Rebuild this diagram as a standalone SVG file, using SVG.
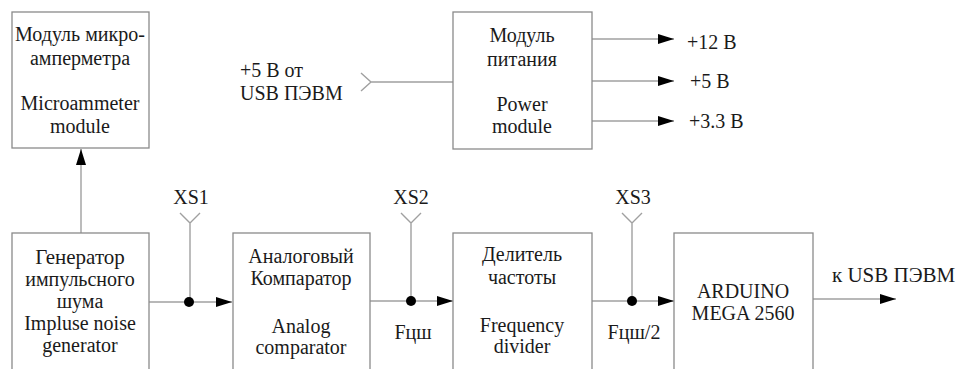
<svg xmlns="http://www.w3.org/2000/svg" width="959" height="369" viewBox="0 0 959 369">
<defs>
<style>
.box{fill:#fff;stroke:#8a8a8a;stroke-width:1.3}
.ln{fill:none;stroke:#a0a0a0;stroke-width:1.4}
text{font-family:'Liberation Serif','DejaVu Serif',serif;font-size:20px;fill:#1a1a1a}
.c{text-anchor:middle}
.dot{fill:#000}
</style>
<marker id="ah" viewBox="0 0 16 10" refX="16" refY="5" markerWidth="16" markerHeight="10" markerUnits="userSpaceOnUse" orient="auto">
<path d="M0,0 L16,5 L0,10 Z" fill="#000"/>
</marker>
</defs>
<rect width="959" height="369" fill="#fff"/>

<g id="connectors">
<path class="ln" d="M81,233 V149" marker-end="url(#ah)"/>
<path class="ln" d="M361,73 L371,82 L361,91 M371,82 H453"/>
<path class="ln" d="M592,39 H674" marker-end="url(#ah)"/>
<path class="ln" d="M592,81 H674" marker-end="url(#ah)"/>
<path class="ln" d="M592,121 H674" marker-end="url(#ah)"/>
<path class="ln" d="M149,302 H232" marker-end="url(#ah)"/>
<path class="ln" d="M370,301 H453" marker-end="url(#ah)"/>
<path class="ln" d="M592,301 H674" marker-end="url(#ah)"/>
<path class="ln" d="M813,299 H896" marker-end="url(#ah)"/>
<path class="ln" d="M180,213 L190,223 L200,213 M190,223 V302"/>
<path class="ln" d="M401,213 L411,223 L421,213 M411,223 V301"/>
<path class="ln" d="M622,213 L632,223 L642,213 M632,223 V301"/>
<circle class="dot" cx="189" cy="302" r="5"/>
<circle class="dot" cx="411" cy="301" r="5"/>
<circle class="dot" cx="632" cy="301" r="5"/>
</g>

<g id="microammeter">
<rect class="box" x="12" y="12" width="137" height="136"/>
<text class="c" x="80" y="41">Модуль микро-</text>
<text class="c" x="80" y="65">амперметра</text>
<text class="c" x="80" y="110">Microammeter</text>
<text class="c" x="80" y="133">module</text>
</g>

<g id="usb-input">
<text x="240" y="77">+5 В от</text>
<text x="240" y="100">USB ПЭВМ</text>
</g>

<g id="power">
<rect class="box" x="453" y="12" width="139" height="137"/>
<text class="c" x="522" y="42">Модуль</text>
<text class="c" x="522" y="66">питания</text>
<text class="c" x="522" y="111">Power</text>
<text class="c" x="522" y="133">module</text>
</g>

<g id="outputs">
<text x="687" y="49">+12 В</text>
<text x="690" y="88">+5 В</text>
<text x="689" y="128">+3.3 В</text>
</g>

<g id="generator">
<rect class="box" x="12" y="233" width="137" height="150"/>
<text class="c" x="80" y="264" style="font-size:21px">Генератор</text>
<text class="c" x="80" y="286">импульсного</text>
<text class="c" x="80" y="308">шума</text>
<text class="c" x="80" y="330">Impluse noise</text>
<text class="c" x="80" y="352">generator</text>
</g>

<g id="comparator">
<rect class="box" x="233" y="233" width="137" height="150"/>
<text class="c" x="301" y="263">Аналоговый</text>
<text class="c" x="301" y="285">Компаратор</text>
<text class="c" x="301" y="333">Analog</text>
<text class="c" x="301" y="354">comparator</text>
</g>

<g id="divider">
<rect class="box" x="453" y="233" width="139" height="150"/>
<text class="c" x="522" y="261">Делитель</text>
<text class="c" x="522" y="284">частоты</text>
<text class="c" x="522" y="332">Frequency</text>
<text class="c" x="522" y="353">divider</text>
</g>

<g id="arduino">
<rect class="box" x="674" y="233" width="139" height="150"/>
<text class="c" x="743" y="298">ARDUINO</text>
<text class="c" x="743" y="320">MEGA 2560</text>
</g>

<g id="labels">
<text class="c" x="191" y="204">XS1</text>
<text class="c" x="411" y="204">XS2</text>
<text class="c" x="633" y="204">XS3</text>
<text class="c" x="413" y="339">Fцш</text>
<text class="c" x="634" y="339">Fцш/2</text>
<text x="832" y="282" style="font-size:21px">к USB ПЭВМ</text>
</g>
</svg>
